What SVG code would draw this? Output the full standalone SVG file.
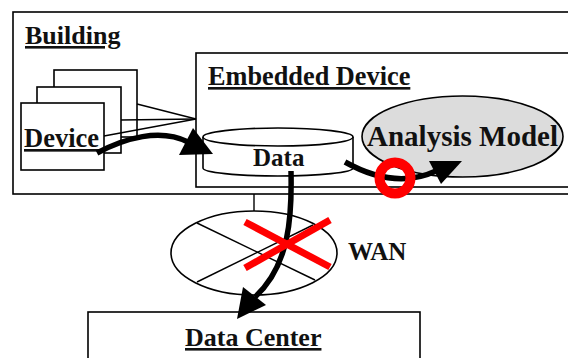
<svg xmlns="http://www.w3.org/2000/svg" width="568" height="358" viewBox="0 0 568 358">
  <style>
    .box { fill: #ffffff; stroke: #000000; stroke-width: 1.6; }
    .thin { fill: none; stroke: #000000; stroke-width: 1.4; }
    .lbl { font-family: "Liberation Serif", "Times New Roman", serif; font-weight: bold; fill: #111111; }
    .ul { text-decoration: underline; }
    .flow { fill: none; stroke: #000000; stroke-width: 5.5; }
    .head { fill: #000000; stroke: none; }
    .mark { fill: none; stroke: #ff0000; }
  </style>

  <!-- Building enclosure (runs off the right edge) -->
  <g id="building">
    <rect class="box" x="13" y="12" width="570" height="182"/>
    <text class="lbl ul" x="25" y="44" font-size="26">Building</text>
  </g>

  <!-- Embedded device enclosure -->
  <g id="embedded-device">
    <rect class="box" x="196" y="53" width="390" height="134"/>
    <text class="lbl ul" x="208" y="85" font-size="26.3">Embedded Device</text>
  </g>

  <!-- Stack of devices with their links into the embedded device -->
  <g id="devices">
    <rect class="box" x="54" y="70" width="83" height="67"/>
    <rect class="box" x="37" y="87" width="84" height="66"/>
    <rect class="box" x="21" y="103" width="83" height="67"/>
    <line class="thin" x1="137" y1="104" x2="196" y2="119"/>
    <line class="thin" x1="121" y1="120" x2="196" y2="119"/>
    <line class="thin" x1="104" y1="136" x2="196" y2="119"/>
    <text class="lbl ul" x="24" y="147" font-size="26.5">Device</text>
  </g>

  <!-- Data store cylinder -->
  <g id="data-store">
    <path class="box" d="M203 137 L203 168 A75 8 0 0 0 353 168 L353 137"/>
    <ellipse class="box" cx="278" cy="137" rx="75" ry="9"/>
    <text class="lbl" x="253" y="166" font-size="25">Data</text>
  </g>

  <!-- Analysis model -->
  <g id="analysis-model">
    <ellipse cx="462.5" cy="136.5" rx="100.5" ry="40.5" fill="#dcdcdc" stroke="#000000" stroke-width="1.6"/>
    <text class="lbl" x="367" y="146" font-size="29">Analysis Model</text>
  </g>

  <!-- Wide area network -->
  <g id="wan">
    <line class="thin" x1="254" y1="194" x2="254" y2="211"/>
    <ellipse class="box" cx="254" cy="253" rx="83" ry="42"/>
    <line class="thin" x1="197" y1="223" x2="315" y2="280"/>
    <line class="thin" x1="197" y1="282" x2="313" y2="225"/>
    <text class="lbl" x="348" y="260" font-size="25">WAN</text>
  </g>

  <!-- Data center (runs off the bottom edge) -->
  <g id="data-center">
    <rect class="box" x="88" y="312" width="332" height="60"/>
    <text class="lbl ul" x="185" y="346" font-size="26">Data Center</text>
  </g>

  <!-- Data flows -->
  <g id="connectors">
    <path class="flow" d="M97 153 C125 138 160 128 188 142"/>
    <polygon class="head" points="213,154 179,155 193,128"/>
    <path class="flow" d="M345 162 Q395 190 436 171"/>
    <polygon class="head" points="462,161 429,161 441,184"/>
    <path class="flow" d="M291 171 C292 215 290 265 255 297"/>
    <polygon class="head" points="237,319 243,287 266,305"/>
  </g>

  <!-- Allowed / blocked markers -->
  <g id="status-marks">
    <circle class="mark" cx="395" cy="178" r="15.5" stroke-width="10"/>
    <line class="mark" x1="245" y1="222" x2="330" y2="267" stroke-width="7"/>
    <line class="mark" x1="245" y1="268" x2="330" y2="220" stroke-width="7"/>
  </g>
</svg>
